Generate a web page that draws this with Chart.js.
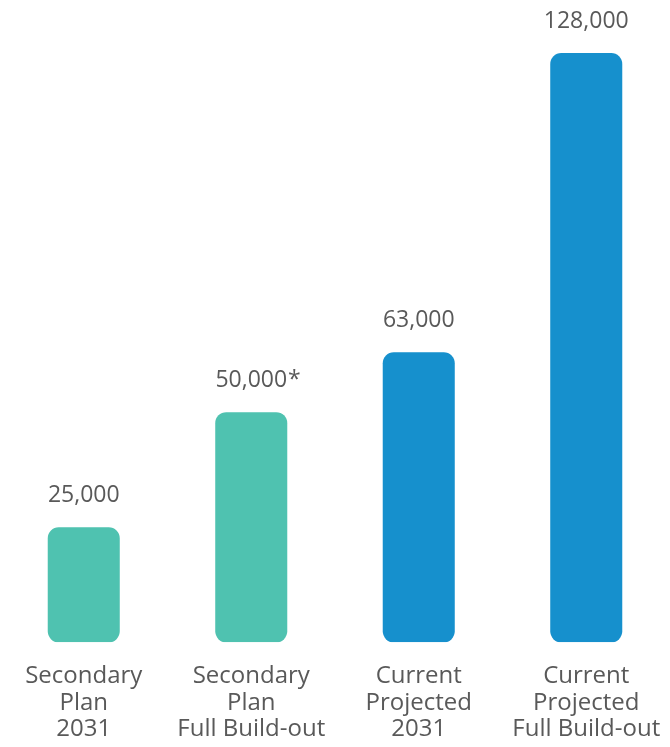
<!DOCTYPE html>
<html>
<head>
<meta charset="utf-8">
<script src="https://cdn.jsdelivr.net/npm/chart.js@4/dist/chart.umd.min.js"></script>
<style>
    html, body { margin: 0; padding: 0; background: #fff; }
    #wrap { width: 670px; height: 747px; position: relative; }
</style>
</head>
<body>
<div id="wrap"><canvas id="popChart"></canvas></div>
<script>
// Population scenarios
var categories = [
    ['Secondary', 'Plan', '2031'],
    ['Secondary', 'Plan', 'Full Build-out'],
    ['Current', 'Projected', '2031'],
    ['Current', 'Projected', 'Full Build-out']
];
var population = [25000, 50000, 63000, 128000];
var footnoteMarks = ['', '*', '', ''];
var barColors = ['#4fc2b0', '#4fc2b0', '#1690cd', '#1690cd'];

var TEXT_COLOR = '#595959';
var FONT_FAMILY = '"Open Sans", "Noto Sans", sans-serif';

// numbers above each bar, the footnote mark hangs off the right side
const valueLabels = {
    id: 'valueLabels',
    afterDatasetsDraw(chart) {
        const ctx = chart.ctx;
        const meta = chart.getDatasetMeta(0);
        ctx.save();
        ctx.font = '23px ' + FONT_FAMILY;
        ctx.fillStyle = TEXT_COLOR;
        ctx.textBaseline = 'middle';
        meta.data.forEach((bar, i) => {
            const txt = population[i].toLocaleString('en-US');
            const y = bar.y - 32;
            ctx.textAlign = 'center';
            ctx.fillText(txt, bar.x, y);
            if (footnoteMarks[i]) {
                const w = ctx.measureText(txt).width;
                ctx.textAlign = 'left';
                ctx.fillText(footnoteMarks[i], bar.x + w / 2 + 1, y);
            }
        });
        ctx.restore();
    }
};

new Chart(document.getElementById('popChart'), {
    type: 'bar',
    data: {
        labels: categories,
        datasets: [{
            data: population,
            backgroundColor: barColors,
            borderRadius: 11,
            borderSkipped: false,
            barPercentage: 0.86,
            categoryPercentage: 0.5
        }]
    },
    options: {
        responsive: true,
        maintainAspectRatio: false,
        animation: false,
        layout: { padding: { top: 53, left: -5, right: 0, bottom: -16 } },
        scales: {
            x: {
                grid: { display: false, drawTicks: false },
                border: { display: false },
                ticks: {
                    color: TEXT_COLOR,
                    font: { family: FONT_FAMILY, size: 24, lineHeight: 1.12 },
                    padding: 20,
                    maxRotation: 0,
                    autoSkip: false
                },
                // labels may run to the canvas edge, no extra side margin
                afterFit(scale) {
                    scale.paddingLeft = 0;
                    scale.paddingRight = 0;
                }
            },
            y: {
                display: false,
                min: 0,
                max: 128000
            }
        },
        plugins: {
            legend: { display: false },
            tooltip: { enabled: false }
        }
    },
    plugins: [valueLabels]
});
</script>
</body>
</html>
